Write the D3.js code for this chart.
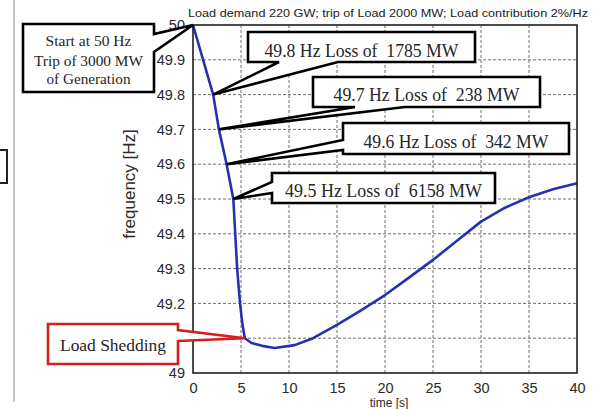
<!DOCTYPE html>
<html>
<head>
<meta charset="utf-8">
<script src="https://cdn.jsdelivr.net/npm/d3@7"></script>
<style>
  body { margin: 0; background: #fff; }
  svg { display: block; }
</style>
</head>
<body>
<div id="chart"></div>
<script>
// frequency response after the trip
const timeSec = [0, 2.1, 2.7, 3.5, 4.2, 4.4, 4.6, 4.9, 5.15, 5.4, 6.1, 7.2, 8.5, 10.6, 12.5, 15, 17.5, 20, 22.5, 25, 27.5, 30, 32.5, 35, 37.5, 40];
const freqHz  = [50, 49.8, 49.7, 49.6, 49.5, 49.4, 49.3, 49.2, 49.14, 49.1, 49.086, 49.078, 49.072, 49.08, 49.1, 49.138, 49.18, 49.224, 49.274, 49.325, 49.38, 49.435, 49.475, 49.505, 49.528, 49.545];

const xTicks = [0, 5, 10, 15, 20, 25, 30, 35, 40];
const yTicks = [49, 49.1, 49.2, 49.3, 49.4, 49.5, 49.6, 49.7, 49.8, 49.9, 50];
// 49.1 sits under the Load Shedding callout in the original
const yTickLabels = ["49", "", "49.2", "49.3", "49.4", "49.5", "49.6", "49.7", "49.8", "49.9", "50"];

const titleText = "Load demand 220 GW; trip of Load 2000 MW; Load contribution 2%/Hz";

// callout texts and the curve points they point to
const noteLines = [
  ["Start at 50 Hz", "Trip of 3000 MW", "of Generation"],
  ["49.8 Hz Loss of  1785 MW"],
  ["49.7 Hz Loss of  238 MW"],
  ["49.6 Hz Loss of  342 MW"],
  ["49.5 Hz Loss of  6158 MW"],
  ["Load Shedding"]
];
const noteTipT = [0, 2.1, 2.7, 3.5, 4.2, 5.4];
const noteTipF = [50, 49.8, 49.7, 49.6, 49.5, 49.1];

// box layout for each callout
const boxes = [
  {x0: 23, y0: 24, x1: 154, y1: 92, side: "right", b1: 34, b2: 52, size: 14.5, base: [46, 66, 84], len: [86, 109, 84], color: "#000"},
  {x0: 248, y0: 32, x1: 475, y1: 62, side: "bottom", b1: 279, b2: 338, size: 18, base: [57], len: [194], color: "#000"},
  {x0: 313, y0: 77, x1: 540, y1: 107, side: "bottom", b1: 355, b2: 405, size: 18, base: [101], len: [186], color: "#000"},
  {x0: 343, y0: 123, x1: 569, y1: 154, side: "left", b1: 140, b2: 150, size: 18, base: [148], len: [185], color: "#000"},
  {x0: 272, y0: 173, x1: 495, y1: 203, side: "left", b1: 182, b2: 193, size: 18, base: [197], len: [197], color: "#000"},
  {x0: 48, y0: 324, x1: 178, y1: 364, side: "right", b1: 330, b2: 341, size: 17, base: [351], len: [106], color: "#d42020"}
];

const W = 598, H = 409;
const svg = d3.select("#chart").append("svg").attr("width", W).attr("height", H);

const x = d3.scaleLinear().domain([0, 40]).range([193, 577]);
const y = d3.scaleLinear().domain([49, 50]).range([373, 25]);

// page edge decorations
svg.append("line").attr("x1", 14).attr("x2", 14).attr("y1", 0).attr("y2", 402)
  .attr("stroke", "#c4c4c4").attr("stroke-width", 2);
svg.append("path").attr("d", "M0,150 H7 V183 H0")
  .attr("fill", "none").attr("stroke", "#222").attr("stroke-width", 2);

// grid
const grid = svg.append("g").attr("stroke", "#6e6e6e").attr("stroke-width", 1).attr("stroke-dasharray", "3,2");
grid.selectAll(".gx").data(xTicks.slice(1, -1)).join("line")
  .attr("x1", d => x(d)).attr("x2", d => x(d)).attr("y1", y(50)).attr("y2", y(49));
grid.selectAll(".gy").data(yTicks.slice(1, -1)).join("line")
  .attr("x1", x(0)).attr("x2", x(40)).attr("y1", d => y(d)).attr("y2", d => y(d));

// axes
const xAxis = svg.append("g").attr("transform", `translate(0,${y(49)})`)
  .call(d3.axisBottom(x).tickValues(xTicks).tickSize(0).tickPadding(10).tickFormat(d3.format("d")));
const yAxis = svg.append("g").attr("transform", `translate(${x(0)},0)`)
  .call(d3.axisLeft(y).tickValues(yTicks).tickSize(0).tickPadding(8).tickFormat((d, i) => yTickLabels[i]));
[xAxis, yAxis].forEach(a => {
  a.select(".domain").remove();
  a.selectAll("text").attr("font-family", "Liberation Sans, Arial, sans-serif")
    .attr("font-size", 14.5).attr("fill", "#2a2a2a");
});

// frequency curve
const pts = timeSec.map((t, i) => [t, freqHz[i]]);
svg.append("path").datum(pts)
  .attr("fill", "none").attr("stroke", "#2631b0").attr("stroke-width", 2.6)
  .attr("stroke-linejoin", "round")
  .attr("d", d3.line().x(d => x(d[0])).y(d => y(d[1])));

// frame
svg.append("rect").attr("x", x(0)).attr("y", y(50)).attr("width", x(40) - x(0)).attr("height", y(49) - y(50))
  .attr("fill", "none").attr("stroke", "#111").attr("stroke-width", 1.5);

// title and axis labels
svg.append("text").attr("x", 188).attr("y", 17).text(titleText)
  .attr("font-family", "Liberation Sans, Arial, sans-serif").attr("font-size", 11.5)
  .attr("textLength", 400).attr("lengthAdjust", "spacingAndGlyphs").attr("fill", "#222");
svg.append("text").attr("transform", "translate(135,184) rotate(-90)").attr("text-anchor", "middle")
  .text("frequency [Hz]").attr("font-family", "Liberation Sans, Arial, sans-serif").attr("font-size", 17)
  .attr("fill", "#2a2a2a");
svg.append("text").attr("x", 389).attr("y", 407).attr("text-anchor", "middle")
  .text("time [s]").attr("font-family", "Liberation Sans, Arial, sans-serif").attr("font-size", 12)
  .attr("fill", "#2a2a2a");

// callouts
function calloutPath(b, tx, ty) {
  const p = [];
  if (b.side === "bottom") {
    p.push([b.x0, b.y0], [b.x1, b.y0], [b.x1, b.y1], [b.b2, b.y1], [tx, ty], [b.b1, b.y1], [b.x0, b.y1]);
  } else if (b.side === "right") {
    p.push([b.x0, b.y0], [b.x1, b.y0], [b.x1, b.b1], [tx, ty], [b.x1, b.b2], [b.x1, b.y1], [b.x0, b.y1]);
  } else {
    p.push([b.x0, b.y0], [b.x1, b.y0], [b.x1, b.y1], [b.x0, b.y1], [b.x0, b.b2], [tx, ty], [b.x0, b.b1]);
  }
  return "M" + p.map(q => q.join(",")).join("L") + "Z";
}

boxes.forEach((b, i) => {
  const g = svg.append("g");
  g.append("path").attr("d", calloutPath(b, x(noteTipT[i]), y(noteTipF[i])))
    .attr("fill", "#fff").attr("stroke", b.color).attr("stroke-width", 2.6)
    .attr("stroke-linejoin", "miter");
  noteLines[i].forEach((line, j) => {
    g.append("text").attr("x", (b.x0 + b.x1) / 2).attr("y", b.base[j]).attr("text-anchor", "middle")
      .text(line).attr("font-family", "Liberation Serif, Times New Roman, serif")
      .attr("font-size", b.size).attr("fill", "#262626")
      .attr("textLength", b.len[j]).attr("lengthAdjust", "spacingAndGlyphs")
      .style("white-space", "pre");
  });
});
</script>
</body>
</html>
